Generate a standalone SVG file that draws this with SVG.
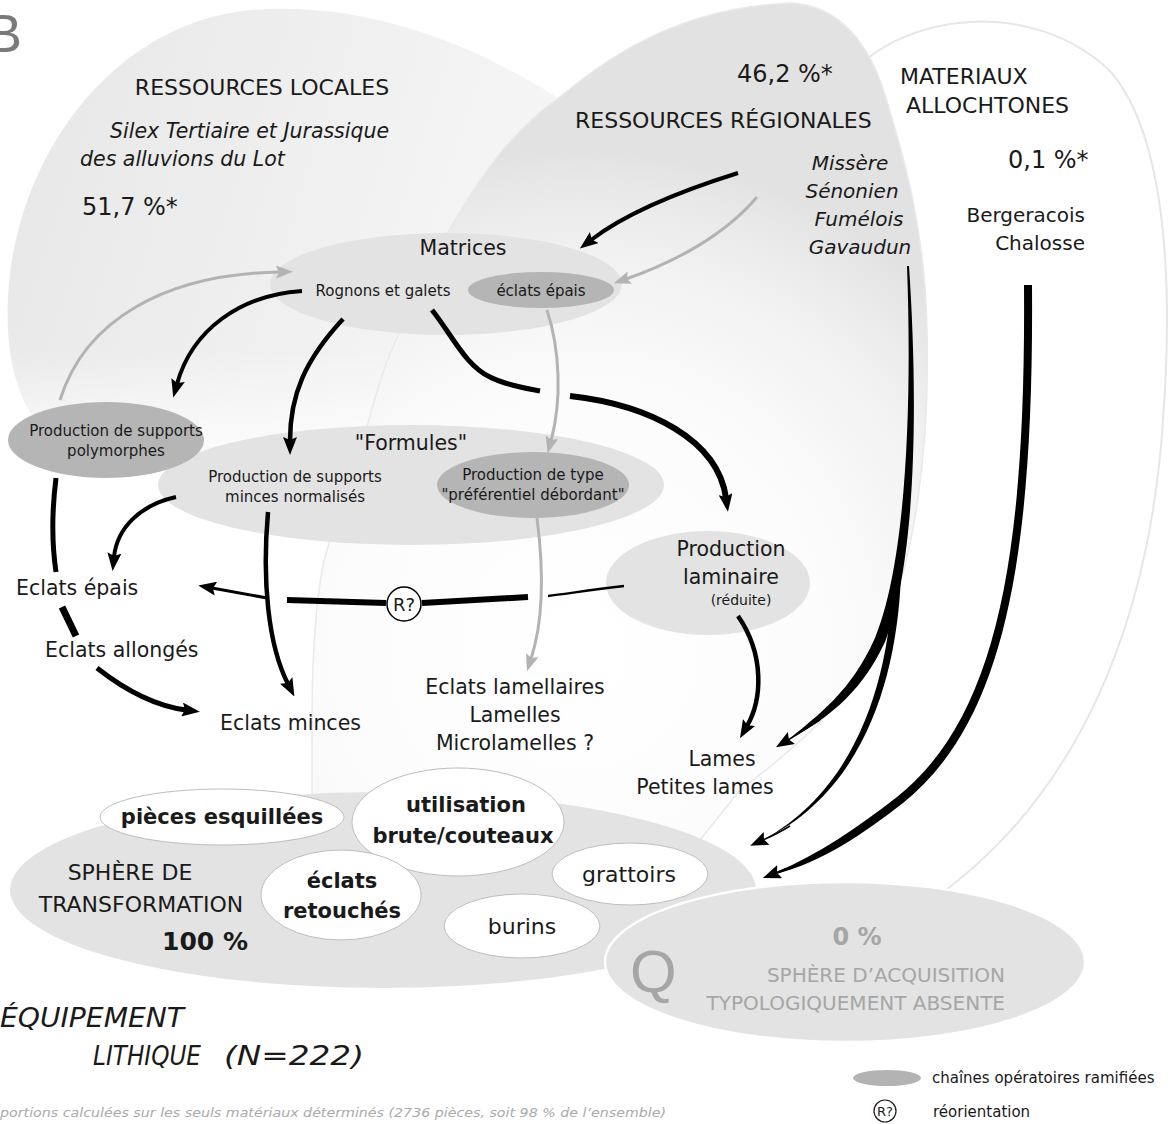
<svg xmlns="http://www.w3.org/2000/svg" width="1176" height="1124" viewBox="0 0 1176 1124">
<style>
.t{font-family:"DejaVu Sans","Liberation Sans",sans-serif;fill:#1a1a1a}
.h{font-size:22px}
.m{font-size:20.5px}
.s{font-size:15px}
.p{font-size:24px}
.i{font-style:italic}
.b{font-weight:bold}
.c{text-anchor:middle}
.e{text-anchor:end}
.gt{fill:#a6a6a6}
.lg{fill:#e3e3e3}
.dg{fill:#b5b5b5}
.wl{fill:#ffffff;stroke:#bdbdbd;stroke-width:1}
.ab{fill:none;stroke:#000;stroke-linecap:butt}
.ag{fill:none;stroke:#b3b3b3;stroke-width:3}
.tp{fill:#000;stroke:none}
</style>
<defs>
<linearGradient id="gLoc" gradientUnits="userSpaceOnUse" x1="0" y1="100" x2="620" y2="300">
<stop offset="0" stop-color="#e7e7e7"/>
<stop offset="0.45" stop-color="#efefef"/>
<stop offset="0.8" stop-color="#f5f5f5"/>
<stop offset="1" stop-color="#fafafa"/>
</linearGradient>
<linearGradient id="gFade" gradientUnits="userSpaceOnUse" x1="0" y1="350" x2="0" y2="480">
<stop offset="0" stop-color="#ffffff"/>
<stop offset="1" stop-color="#000000"/>
</linearGradient>
<mask id="mLoc" maskUnits="userSpaceOnUse" x="0" y="0" width="1176" height="1124">
<rect x="0" y="0" width="1176" height="1124" fill="url(#gFade)"/>
</mask>
<radialGradient id="gReg" gradientUnits="userSpaceOnUse" cx="580" cy="650" r="500">
<stop offset="0" stop-color="#ffffff"/>
<stop offset="0.5" stop-color="#fcfcfc"/>
<stop offset="0.78" stop-color="#f2f2f2"/>
<stop offset="0.93" stop-color="#e8e8e8"/>
<stop offset="1" stop-color="#e2e2e2"/>
</radialGradient>
<marker id="ah" markerUnits="userSpaceOnUse" markerWidth="18" markerHeight="14" viewBox="0 0 18 14" refX="4" refY="7" orient="auto">
<path d="M0,0 L18,7 L0,14 L3,7 Z" fill="#000"/>
</marker>
<marker id="ahg" markerUnits="userSpaceOnUse" markerWidth="17" markerHeight="13" viewBox="0 0 17 13" refX="4" refY="6.5" orient="auto">
<path d="M0,0 L17,6.5 L0,13 L3,6.5 Z" fill="#b3b3b3"/>
</marker>
</defs>
<rect x="0" y="0" width="1176" height="1124" fill="#ffffff"/>

<g id="backgrounds">
<path id="allochtones-zone" d="M800,200 C810,120 830,90 851,75 C900,15 1030,-5 1110,71 C1170,140 1172,300 1163,420 C1150,620 1080,800 925,905" fill="#ffffff" stroke="#e6e6e6" stroke-width="2"/>
<path id="locales-zone" d="M8,330 C0,180 100,25 250,10 C380,0 500,55 590,120 C650,170 650,380 580,440 C480,500 250,490 120,470 C40,455 12,400 8,330 Z" fill="url(#gLoc)" mask="url(#mLoc)"/>
<path id="regionales-zone" d="M312,840 L312,720 C312,640 318,580 327,550 C340,500 350,470 360,452 C372,410 380,375 394,345 C410,305 430,262 452,225 C490,160 520,125 560,97 C610,55 680,8 790,3 C840,5 870,45 885,95 C905,160 925,230 927,330 C930,450 915,560 880,640 C850,700 800,745 740,790 L700,840 Z" fill="url(#gReg)" stroke="#e9e9e9" stroke-width="1.5"/>
</g>

<text class="t" x="-14" y="52" style="font-family:'Liberation Sans',sans-serif;font-size:54px;fill:#7a7a7a">B</text>

<g id="ressources-locales">
<text class="t h c" x="262" y="95">RESSOURCES LOCALES</text>
<text class="t m i" x="110" y="138">Silex Tertiaire et Jurassique</text>
<text class="t m i" x="80" y="166">des alluvions du Lot</text>
<text class="t p" x="82" y="215">51,7 %*</text>
</g>

<g id="ressources-regionales">
<text class="t p" x="737" y="82">46,2 %*</text>
<text class="t h" x="575" y="128">RESSOURCES RÉGIONALES</text>
<text class="t i c" style="font-size:20px" x="850" y="170">Missère</text>
<text class="t i c" style="font-size:20px" x="852" y="198">Sénonien</text>
<text class="t i c" style="font-size:20px" x="859" y="226">Fumélois</text>
<text class="t i c" style="font-size:20px" x="860" y="254">Gavaudun</text>
</g>

<g id="materiaux-allochtones">
<text class="t h" x="900" y="84">MATERIAUX</text>
<text class="t h" x="906" y="113">ALLOCHTONES</text>
<text class="t p" x="1008" y="168">0,1 %*</text>
<text class="t e" style="font-size:20px" x="1085" y="222">Bergeracois</text>
<text class="t e" style="font-size:20px" x="1085" y="250">Chalosse</text>
</g>

<g id="matrices">
<ellipse class="lg" cx="446" cy="284" rx="176" ry="51"/>
<text class="t m c" x="463" y="255">Matrices</text>
<text class="t s c" x="383" y="296">Rognons et galets</text>
</g>
<g id="eclats-epais-matrice">
<ellipse class="dg" cx="541" cy="290" rx="73" ry="18"/>
<text class="t s c" x="541" y="296">éclats épais</text>
</g>

<g id="formules">
<ellipse class="lg" cx="411" cy="485" rx="253" ry="60"/>
<text class="t m c" x="411" y="450">"Formules"</text>
<text class="t s c" x="295" y="482">Production de supports</text>
<text class="t s c" x="295" y="502">minces normalisés</text>
</g>
<g id="preferentiel">
<ellipse class="dg" cx="533" cy="485" rx="96" ry="33"/>
<text class="t s c" x="533" y="480">Production de type</text>
<text class="t s c" x="533" y="500">"préférentiel débordant"</text>
</g>
<g id="polymorphes">
<ellipse class="dg" cx="106" cy="440" rx="98" ry="38"/>
<text class="t s c" x="116" y="436">Production de supports</text>
<text class="t s c" x="116" y="456">polymorphes</text>
</g>
<g id="laminaire">
<ellipse class="lg" cx="708" cy="583" rx="102" ry="52"/>
<text class="t m c" x="731" y="556">Production</text>
<text class="t m c" x="731" y="584">laminaire</text>
<text class="t c" style="font-size:14px" x="741" y="605">(réduite)</text>
</g>

<g id="eclats-epais"><text class="t m" x="16" y="595">Eclats épais</text></g>
<g id="eclats-allonges"><text class="t m" x="45" y="657">Eclats allongés</text></g>
<g id="eclats-minces"><text class="t m" x="220" y="730">Eclats minces</text></g>
<g id="lamellaires">
<text class="t m c" x="515" y="694">Eclats lamellaires</text>
<text class="t m c" x="515" y="722">Lamelles</text>
<text class="t m c" x="515" y="750">Microlamelles ?</text>
</g>
<g id="lames">
<text class="t m c" x="722" y="766">Lames</text>
<text class="t m c" x="705" y="794">Petites lames</text>
</g>

<g id="sphere-transformation">
<ellipse class="lg" cx="383" cy="890" rx="373" ry="98"/>
<text class="t h c" x="130" y="880">SPHÈRE DE</text>
<text class="t h c" x="141" y="912">TRANSFORMATION</text>
<text class="t b c" style="font-size:25px" x="205" y="950">100 %</text>
</g>
<g id="pieces-esquillees">
<ellipse class="wl" cx="222" cy="817" rx="122" ry="28"/>
<text class="t b c" style="font-size:21px" x="222" y="824">pièces esquillées</text>
</g>
<g id="utilisation-brute">
<ellipse class="wl" cx="458" cy="822" rx="106" ry="54"/>
<text class="t b c" style="font-size:21px" x="466" y="812">utilisation</text>
<text class="t b c" style="font-size:21px" x="463" y="843">brute/couteaux</text>
</g>
<g id="eclats-retouches">
<ellipse class="wl" cx="341" cy="895" rx="80" ry="45"/>
<text class="t b c" style="font-size:21px" x="342" y="888">éclats</text>
<text class="t b c" style="font-size:21px" x="342" y="918">retouchés</text>
</g>
<g id="grattoirs">
<ellipse class="wl" cx="630" cy="874" rx="78" ry="31"/>
<text class="t c" style="font-size:22px" x="629" y="882">grattoirs</text>
</g>
<g id="burins">
<ellipse class="wl" cx="522" cy="926" rx="78" ry="32"/>
<text class="t c" style="font-size:22px" x="522" y="934">burins</text>
</g>

<g id="sphere-acquisition">
<ellipse cx="845" cy="962" rx="240" ry="80" fill="#e3e3e3" stroke="#ffffff" stroke-width="2.5"/>
<text class="t gt" style="font-family:'Liberation Sans',sans-serif;font-size:60px" x="630" y="992">Q</text>
<text class="t b c gt" style="font-size:24px" x="857" y="945">0 %</text>
<text class="t e gt" style="font-size:20px" x="1005" y="982">SPHÈRE D’ACQUISITION</text>
<text class="t e gt" style="font-size:20px" x="1005" y="1010">TYPOLOGIQUEMENT ABSENTE</text>
</g>

<g id="connectors">
<path class="ab" stroke-width="4" d="M738,173 C690,188 630,210 591,240" marker-end="url(#ah)"/>
<path class="ag" d="M757,197 C725,235 675,262 626,279" marker-end="url(#ahg)"/>
<path class="ag" stroke-width="3.5" d="M60,400 C85,320 165,274 280,272" marker-end="url(#ahg)"/>
<path class="ab" stroke-width="4" d="M302,291 C240,295 192,330 177,384" marker-end="url(#ah)"/>
<path class="ab" stroke-width="4.5" d="M343,319 C305,360 290,395 290,441" marker-end="url(#ah)"/>
<path class="ab" stroke-width="5" d="M432,310 C452,335 465,365 490,377 C505,385 525,388 540,391"/>
<path class="ab" stroke-width="6" d="M570,396 C650,405 718,440 726,498" marker-end="url(#ah)"/>
<path class="ag" d="M547,310 C560,350 562,400 551,441" marker-end="url(#ahg)"/>
<path class="ab" stroke-width="4" d="M176,497 C140,505 117,528 114,557" marker-end="url(#ah)"/>
<path class="ab" stroke-width="5" d="M56,478 C52,510 52,545 56,572"/>
<path class="ab" stroke-width="7" d="M62,607 L76,636"/>
<path class="ab" stroke-width="5" d="M97,668 C125,690 155,706 186,710" marker-end="url(#ah)"/>
<path class="ab" stroke-width="4.5" d="M268,512 C262,580 268,645 288,684" marker-end="url(#ah)"/>
<path class="ab" stroke-width="2.5" d="M624,586 C590,590 565,594 548,596"/>
<path class="ab" stroke-width="6" d="M528,597 L422,603"/>
<path class="ab" stroke-width="6" d="M386,603 L287,600"/>
<path class="ab" stroke-width="3" d="M267,598 L212,588" marker-end="url(#ah)"/>
<path class="ag" d="M537,518 C545,580 542,625 531,659" marker-end="url(#ahg)"/>
<path class="ab" stroke-width="4.5" d="M738,616 C765,655 762,700 747,726" marker-end="url(#ah)"/>
<path class="tp" d="M907,266 C912,400 907,560 875,638 C851,692 818,715 788,740 C822,721 859,698 885,642 C917,560 918,400 909,266 Z"/>
<path class="ab" stroke-width="1.5" d="M820,720 C808,728 798,734 788,740" marker-end="url(#ah)"/>
<path class="tp" d="M893,575 C890,680 857,788 763,840 C862,792 897,682 901,575 Z"/>
<path class="ab" stroke-width="1.5" d="M790,826 C782,831 772,836 763,840" marker-end="url(#ah)"/>
<path class="tp" d="M1024,285 C1026,560 996,718 897,797 C858,827 818,855 776,872 L776,874 C822,862 863,834 903,803 C1004,722 1034,560 1032,285 Z"/>
<path class="ab" stroke-width="2" d="M800,864 C792,867 784,870 776,873" marker-end="url(#ah)"/>
</g>

<g id="reorientation">
<circle cx="404" cy="604" r="17" fill="#ffffff" stroke="#000" stroke-width="1.5"/>
<text class="t c" style="font-size:18px" x="404" y="611">R?</text>
</g>

<g id="titre">
<text class="t i" style="font-size:27px" x="0" y="1027" textLength="184" lengthAdjust="spacingAndGlyphs">ÉQUIPEMENT</text>
<text class="t i" style="font-size:27px" x="93" y="1065" textLength="108" lengthAdjust="spacingAndGlyphs">LITHIQUE</text>
<text class="t i" style="font-size:27px" x="224" y="1065" textLength="140" lengthAdjust="spacingAndGlyphs">(N=222)</text>
<text class="t i" style="font-size:13px;fill:#aaaaaa" x="0" y="1117" textLength="666" lengthAdjust="spacingAndGlyphs">portions calculées sur les seuls matériaux déterminés (2736 pièces, soit 98 % de l’ensemble)</text>
</g>

<g id="legende">
<ellipse cx="887" cy="1078" rx="34" ry="8" fill="#b3b3b3"/>
<text class="t s" x="932" y="1083">chaînes opératoires ramifiées</text>
<circle cx="885" cy="1111" r="11" fill="none" stroke="#1a1a1a" stroke-width="1.2"/>
<text class="t c" style="font-size:13px" x="885" y="1116">R?</text>
<text class="t s" x="933" y="1117">réorientation</text>
</g>
</svg>
